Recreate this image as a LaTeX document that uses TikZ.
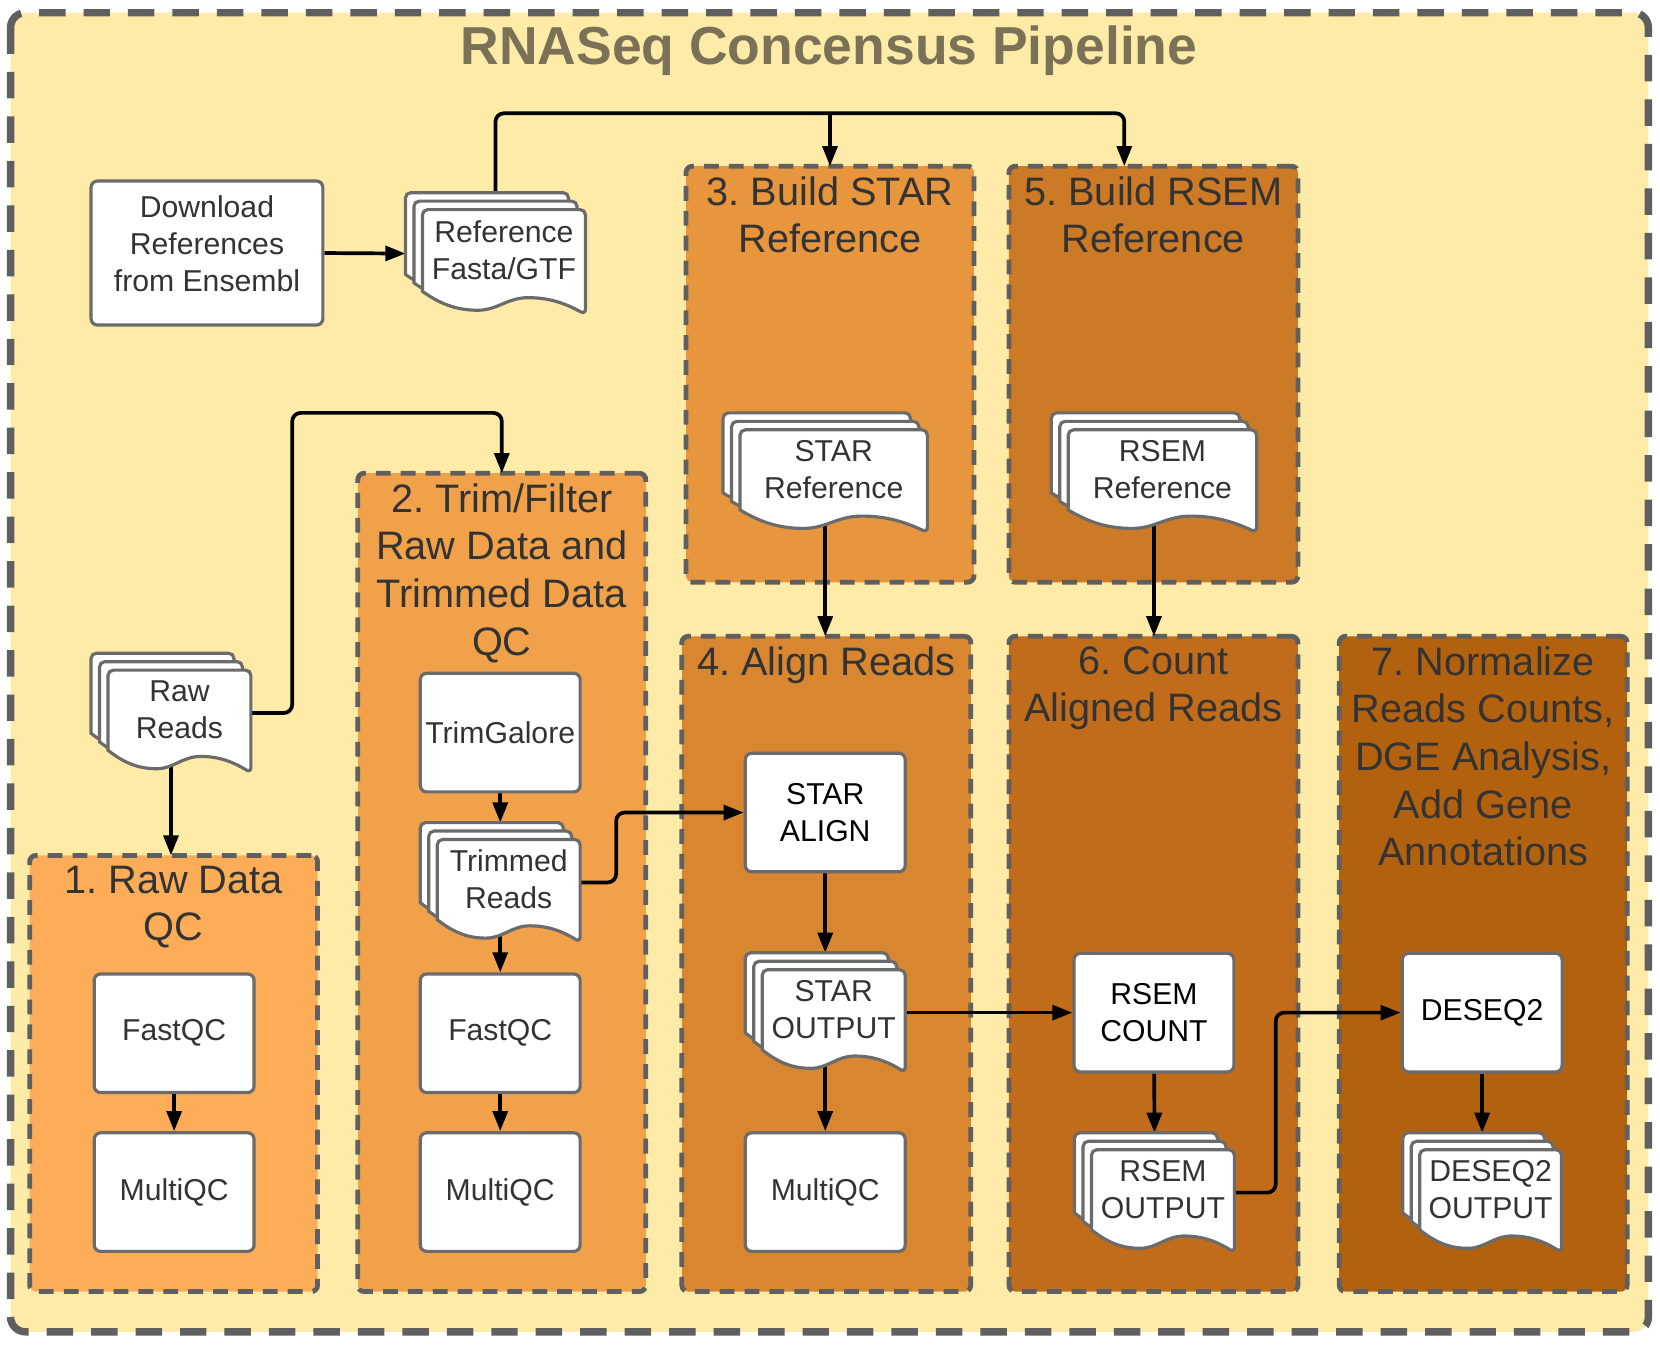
\documentclass[tikz,border=0pt]{standalone}
\usepackage{fontspec}
\setmainfont{Liberation Sans}
\usetikzlibrary{arrows.meta,positioning}
\frenchspacing

\pgfdeclarelayer{bg}
\pgfdeclarelayer{grp}
\pgfdeclarelayer{lines}
\pgfsetlayers{bg,grp,lines,main}

\definecolor{outerfill}{HTML}{FFEBA8}
\definecolor{titlecol}{HTML}{7A7156}
\definecolor{dashcol}{HTML}{5F5F5F}
\definecolor{boxline}{HTML}{6B6B6B}
\definecolor{txt}{HTML}{333333}
\definecolor{grpA}{HTML}{FDAD58}
\definecolor{grpB}{HTML}{F0A14A}
\definecolor{grpC}{HTML}{E8963D}
\definecolor{grpD}{HTML}{D8862F}
\definecolor{grpE}{HTML}{CC7A26}
\definecolor{grpF}{HTML}{C06C1B}
\definecolor{grpG}{HTML}{B2620F}

\tikzset{
	grp/.style={draw=dashcol, line width=4.5pt, dash pattern=on 14pt off 9.5pt, rounded corners=6pt, anchor=north west, inner sep=0pt, outer sep=0pt},
	grptitle/.style={font=\fontsize{37.5}{45}\selectfont, text=txt, align=center, anchor=north, inner sep=0pt},
	box/.style={draw=boxline, line width=3pt, fill=white, rounded corners=6pt, minimum width=151pt, minimum height=112pt, font=\fontsize{28.5}{35}\selectfont, text=txt, align=center, inner sep=0pt},
	docbox/.style={inner sep=0pt, outer sep=0pt},
	docline/.style={draw=boxline, line width=3pt, fill=white},
	doctext/.style={font=\fontsize{28.5}{35}\selectfont, text=txt, align=center, inner sep=0pt},
	conn/.style={line width=3.5pt, rounded corners=8pt, -{Triangle[length=19pt,width=14pt]}},
}

% one page of a document stack: top left x, y, width, height
\newcommand{\docpage}[4]{%
	\draw[docline] (#1,#2+0.78*#4) [rounded corners=5pt] -- (#1,#2) -- (#1+#3,#2) -- (#1+#3,#2+#4) [sharp corners]
	.. controls (#1+0.86*#3,#2+0.88*#4) and (#1+0.76*#3,#2+0.84*#4) .. (#1+0.65*#3,#2+0.84*#4)
	.. controls (#1+0.52*#3,#2+0.84*#4) and (#1+0.46*#3,#2+0.96*#4) .. (#1+0.34*#3,#2+0.96*#4)
	.. controls (#1+0.2*#3,#2+0.96*#4) and (#1+0.1*#3,#2+0.89*#4) .. (#1,#2+0.78*#4) -- cycle;
}

% stack of three pages: name, x, y, width, height, text
\newcommand{\docstack}[6]{%
	\pgfmathsetmacro{\dsw}{#4-16}
	\pgfmathsetmacro{\dsh}{#5-16}
	\node[docbox, minimum width=#4pt, minimum height=#5pt, anchor=north west] (#1) at (#2,#3) {};
	\foreach \k in {0,1,2}{
		\pgfmathsetmacro{\dsx}{#2+8*\k}
		\pgfmathsetmacro{\dsy}{#3+8*\k}
		\docpage{\dsx}{\dsy}{\dsw}{\dsh}
	}
	\node[doctext] at (#2+16+0.5*\dsw, #3+16+0.385*\dsh) {#6};
}

\begin{document}
\begin{tikzpicture}[x=1pt, y=-1pt]
	\useasboundingbox (0,0) rectangle (1568,1272);

	% outer frame
	\begin{pgfonlayer}{bg}
	\draw[draw=dashcol, fill=outerfill, line width=7pt, dash pattern=on 25pt off 17pt, rounded corners=14pt] (10,12) rectangle (1557,1258);
	\end{pgfonlayer}

	% title
	\node[font=\bfseries\fontsize{50.5}{56}\selectfont, text=titlecol] (title) at (783,48) {RNASeq Concensus Pipeline};

	% groups
	\begin{pgfonlayer}{grp}
	\node[grp, fill=grpA, minimum width=272pt, minimum height=412pt] (g1) at (28,808) {};
	\node[grptitle] at ([yshift=-9.5pt]g1.north) {1. Raw Data\\QC};
	\node[grp, fill=grpB, minimum width=272pt, minimum height=773pt] (g2) at (338,447) {};
	\node[grptitle] at ([yshift=-9.5pt]g2.north) {2. Trim/Filter\\Raw Data and\\Trimmed Data\\QC};
	\node[grp, fill=grpC, minimum width=272pt, minimum height=393pt] (g3) at (648,157) {};
	\node[grptitle] at ([yshift=-9.5pt]g3.north) {3. Build STAR\\Reference};
	\node[grp, fill=grpD, minimum width=273pt, minimum height=619pt] (g4) at (644,601) {};
	\node[grptitle] at ([yshift=-9.5pt]g4.north) {4. Align Reads};
	\node[grp, fill=grpE, minimum width=273pt, minimum height=393pt] (g5) at (953,157) {};
	\node[grptitle] at ([yshift=-9.5pt]g5.north) {5. Build RSEM\\Reference};
	\node[grp, fill=grpF, minimum width=273pt, minimum height=619pt] (g6) at (953,601) {};
	\node[grptitle] at ([yshift=-9.5pt]g6.north) {6. Count\\Aligned Reads};
	\node[grp, fill=grpG, minimum width=272pt, minimum height=619pt] (g7) at (1265,601) {};
	\node[grptitle] at ([yshift=-9.5pt]g7.north) {7. Normalize\\Reads Counts,\\DGE Analysis,\\Add Gene\\Annotations};
	\end{pgfonlayer}

	% process boxes
	\node[box, minimum width=219pt, minimum height=136pt, label={[doctext, yshift=9pt]center:Download\\References\\from Ensembl}] (download) at (195.5,239) {};
	\node[box] (fastqcA) at (164.5,976) {FastQC};
	\node[box] (multiqcA) at (164.5,1126) {MultiQC};
	\node[box] (trimgalore) at (472.5,692) {TrimGalore};
	\node[box] (fastqcB) at (472.5,976) {FastQC};
	\node[box] (multiqcB) at (472.5,1126) {MultiQC};
	\node[box, text=black] (staralign) at (779.5,767.5) {STAR\\ALIGN};
	\node[box] (multiqcC) at (779.5,1126) {MultiQC};
	\node[box, text=black] (rsemcount) at (1090,956.5) {RSEM\\COUNT};
	\node[box, text=black] (deseq) at (1400,956.5) {DESEQ2};

	% documents
	\docstack{refdoc}{383}{182}{170}{115}{Reference\\Fasta/GTF}
	\docstack{rawreads}{86}{617}{151}{113}{Raw\\Reads}
	\docstack{trimmed}{397}{777}{151}{113}{Trimmed\\Reads}
	\docstack{starref}{683}{390}{193}{113}{STAR\\Reference}
	\docstack{rsemref}{993}{390}{194}{113}{RSEM\\Reference}
	\docstack{starout}{704}{900}{151}{113}{STAR\\OUTPUT}
	\docstack{rsemout}{1015}{1070}{151}{113}{RSEM\\OUTPUT}
	\docstack{deseqout}{1325}{1070}{150}{113}{DESEQ2\\OUTPUT}

	% connectors
	\coordinate (reftop) at (1062,107);
	\coordinate (rawbend) at (276,390);
	\begin{pgfonlayer}{lines}
	\draw[conn] (download.east) -- (refdoc.west);
	\draw[conn] (refdoc.north) |- (reftop) -- (reftop |- g5.north);
	\draw[conn] (g3.north |- reftop) -- (g3.north);
	\draw[conn] (rawreads.east) -| (rawbend) -| (g2.north);
	\draw[conn] (rawreads.center) -- (rawreads.center |- g1.north);
	\draw[conn] (fastqcA) -- (multiqcA);
	\draw[conn] (trimgalore) -- (trimmed.north);
	\draw[conn] (trimmed.center) -- (fastqcB.north);
	\draw[conn] (fastqcB) -- (multiqcB);
	\draw[conn] (trimmed.east) -- ++(34,0) |- (staralign.west);
	\draw[conn] (starref.center) -- (starref.center |- g4.north);
	\draw[conn] (rsemref.center) -- (rsemref.center |- g6.north);
	\draw[conn] (staralign) -- (starout.north);
	\draw[conn] (starout.center) -- (multiqcC.north);
	\draw[conn] (starout.east) -- (rsemcount.west);
	\draw[conn] (rsemcount) -- (rsemout.north);
	\draw[conn] (rsemout.east) -- ++(39,0) |- (deseq.west);
	\draw[conn] (deseq) -- (deseqout.north);
	\end{pgfonlayer}

\end{tikzpicture}
\end{document}
